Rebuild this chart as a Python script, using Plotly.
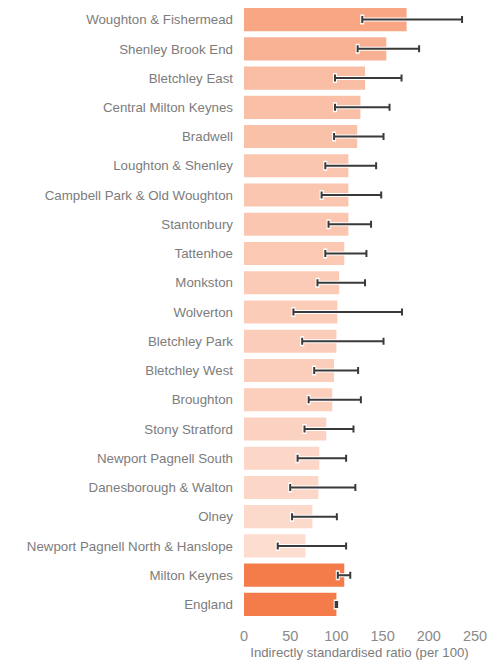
import plotly.graph_objects as go

# Ward level indirectly standardised ratios with 95% confidence limits
areas = [
    "Woughton & Fishermead", "Shenley Brook End", "Bletchley East",
    "Central Milton Keynes", "Bradwell", "Loughton & Shenley",
    "Campbell Park & Old Woughton", "Stantonbury", "Tattenhoe", "Monkston",
    "Wolverton", "Bletchley Park", "Bletchley West", "Broughton",
    "Stony Stratford", "Newport Pagnell South", "Danesborough & Walton",
    "Olney", "Newport Pagnell North & Hanslope",
]
ratio = [176, 154, 131, 126, 122.5, 113, 113, 113, 108.5, 103, 101, 100,
         97.5, 95.5, 89, 81.5, 80.5, 74, 66.5]
lower = [128, 123, 98.5, 98.5, 97.5, 88, 84, 91.5, 88, 79.5, 53.5, 63, 76,
         70, 65.5, 58, 50, 52, 36.5]
upper = [236, 189.5, 170.5, 157.5, 151, 143, 148.5, 137.5, 132.5, 131, 171,
         151, 123.5, 126.5, 118.5, 110.5, 120.5, 100.5, 110.5]

# comparators
comp_areas = ["Milton Keynes", "England"]
comp_ratio = [108.5, 100]
comp_lower = [101.5, 99.2]
comp_upper = [115, 100.8]

x_ticks = [0, 50, 100, 150, 200, 250]

base = (244, 124, 74)
top = max(ratio)


def shade(v):
    a = 0.68 * v / top
    r, g, b = [round(255 - a * (255 - c)) for c in base]
    return f"rgb({r},{g},{b})"


cats = areas + comp_areas
vals = ratio + comp_ratio
lo = lower + comp_lower
hi = upper + comp_upper
colors = [shade(v) for v in ratio] + ["rgb(244,124,74)"] * len(comp_areas)

fig = go.Figure()
fig.add_trace(go.Bar(
    x=vals, y=cats, orientation="h",
    marker=dict(color=colors, line=dict(width=0)),
    hoverinfo="skip",
))

# white halo under the error bars, then the dark bars
for col, thick, w in [("white", 4, 5), ("#3a3a3a", 2, 3.5)]:
    fig.add_trace(go.Scatter(
        x=vals, y=cats, mode="markers",
        marker=dict(size=1, opacity=0),
        error_x=dict(
            type="data", symmetric=False,
            array=[h - v for h, v in zip(hi, vals)],
            arrayminus=[v - l for v, l in zip(vals, lo)],
            color=col, thickness=thick, width=w,
        ),
        hoverinfo="skip",
    ))

fig.update_layout(
    width=488, height=660,
    margin=dict(l=243.5, r=13, t=5, b=41, autoexpand=False),
    paper_bgcolor="white", plot_bgcolor="white",
    showlegend=False,
    bargap=0.21,
    font=dict(family="Liberation Sans, Arial, sans-serif", size=13.3, color="#7c7c7c"),
    xaxis=dict(
        range=[0, 250], tickvals=x_ticks, showgrid=False, zeroline=False,
        showline=False, ticks="outside", ticklen=4, tickcolor="rgba(0,0,0,0)",
        automargin=False, tickfont=dict(size=14.5, color="#8a8a8a"),
        title=dict(text="Indirectly standardised ratio (per 100)", standoff=5,
                   font=dict(size=13.2)),
    ),
    yaxis=dict(
        range=[len(cats) - 0.5, -0.5], showgrid=False, zeroline=False,
        showline=False, ticks="", ticklabelstandoff=10, automargin=False,
    ),
)

fig.write_html("out.html", config={"displayModeBar": False},
               post_script="document.body.style.margin='0';")
